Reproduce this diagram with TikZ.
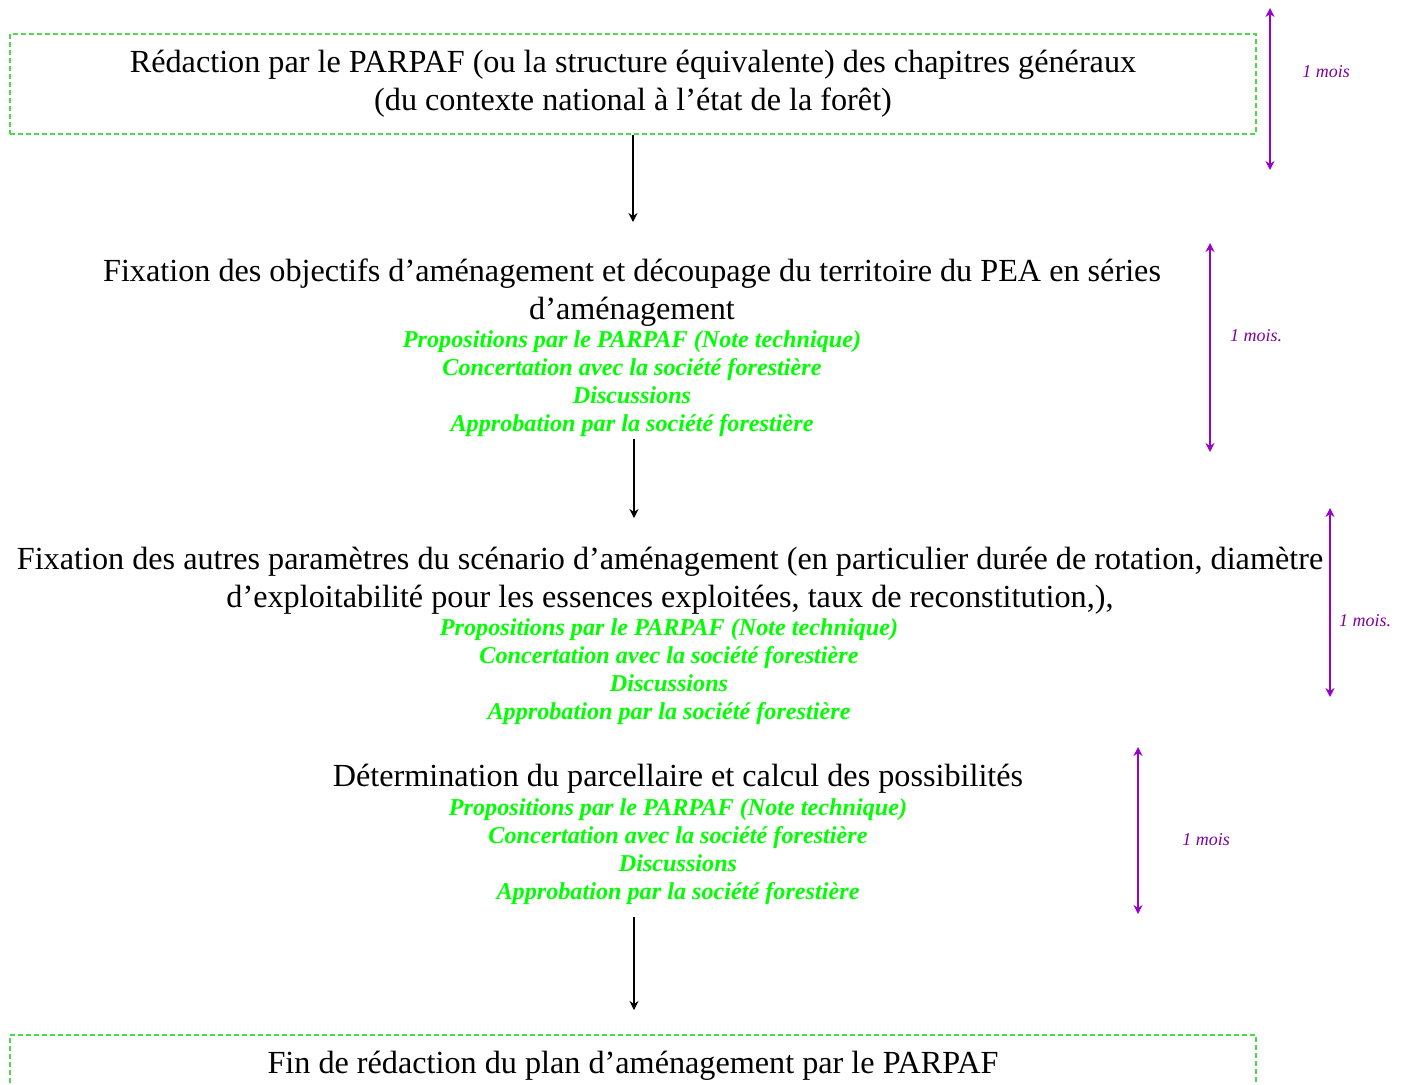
\documentclass[tikz,border=0pt]{standalone}
\usepackage{fontspec}
\setmainfont{Liberation Serif}
\usepackage{xcolor}
\usetikzlibrary{positioning,calc,arrows.meta}

\definecolor{boxgreen}{RGB}{76,217,76}
\definecolor{stepgreen}{RGB}{0,255,0}
\definecolor{dureepurple}{RGB}{153,0,204}
\definecolor{moispurple}{RGB}{128,0,160}

\tikzset{
  etapebox/.style={draw=boxgreen,dash pattern=on 2.5pt off 1.5pt,line width=0.7pt,minimum width=623pt,minimum height=50pt,inner sep=0.75pt,align=center,font=\fontsize{16.1}{19}\selectfont},
  etape/.style={inner sep=0.75pt,align=center,font=\fontsize{16.1}{19}\selectfont},
  sousetape/.style={inner sep=0.75pt,align=center,text=stepgreen,font=\fontsize{12.1}{14}\selectfont\bfseries\itshape},
  duree/.style={inner sep=0.75pt,text=moispurple,font=\fontsize{9}{10}\selectfont\itshape},
  fleche/.style={-{Stealth[length=4.5pt,width=4.5pt,inset=1.5pt]},line width=0.7pt},
  fleduree/.style={{Stealth[length=4.5pt,width=4.5pt,inset=1.5pt]}-{Stealth[length=4.5pt,width=4.5pt,inset=1.5pt]},draw=dureepurple,line width=0.9pt}
}

\begin{document}
\begin{tikzpicture}[x=0.5pt,y=0.5pt,yscale=-1,xscale=1]
\useasboundingbox (0,0) rectangle (1404,1084);

% Text Node
\node [etapebox] (redac) at (633,84) {R\'edaction par le PARPAF (ou la structure \'equivalente) des chapitres g\'en\'eraux\\(du contexte national \`a l’\'etat de la for\^et)};
% Text Node
\node [etape] (fixobj) at (632,293) {Fixation des objectifs d’am\'enagement et d\'ecoupage du territoire du PEA en s\'eries\\d’am\'enagement};
\node [sousetape] (fixobjg) at (632,384) {Propositions par le PARPAF (Note technique)\\Concertation avec la soci\'et\'e foresti\`ere\\Discussions\\Approbation par la soci\'et\'e foresti\`ere};
% Text Node
\node [etape] (fixparam) at (670,581) {Fixation des autres param\`etres du sc\'enario d’am\'enagement (en particulier dur\'ee de rotation, diam\`etre\\d’exploitabilit\'e pour les essences exploit\'ees, taux de reconstitution,),};
\node [sousetape] (fixparamg) at (669,672) {Propositions par le PARPAF (Note technique)\\Concertation avec la soci\'et\'e foresti\`ere\\Discussions\\Approbation par la soci\'et\'e foresti\`ere};
% Text Node
\node [etape] (parcel) at (678,779) {D\'etermination du parcellaire et calcul des possibilit\'es};
\node [sousetape] (parcelg) at (678,852) {Propositions par le PARPAF (Note technique)\\Concertation avec la soci\'et\'e foresti\`ere\\Discussions\\Approbation par la soci\'et\'e foresti\`ere};
% Text Node
\node [etape] (fin) at (633,1066) {Fin de r\'edaction du plan d’am\'enagement par le PARPAF};
\draw [draw=boxgreen,dash pattern=on 2.5pt off 1.5pt,line width=0.7pt] (10,1083) -- (10,1035) -- (1256,1035) -- (1256,1083);

%Straight Lines
\coordinate (fleche1bas) at (633,222);
\draw [fleche] (redac) -- (fleche1bas);
\coordinate (fleche2bas) at (634,518);
\draw [fleche] (fleche2bas |- fixobjg.south) -- (fleche2bas);
\coordinate (fleche3bas) at (634,1010);
\draw [fleche] ($(fleche3bas |- parcelg.south)+(0,10)$) -- (fleche3bas);

%Straight Lines
\coordinate (d1haut) at (1270,8);
\coordinate (d1bas) at (1270,170);
\draw [fleduree] (d1haut) -- (d1bas);
\coordinate (d2haut) at (1210,243);
\coordinate (d2bas) at (1210,452);
\draw [fleduree] (d2haut) -- (d2bas);
\coordinate (d3haut) at (1330,508);
\coordinate (d3bas) at (1330,697);
\draw [fleduree] (d3haut) -- (d3bas);
\coordinate (d4haut) at (1138,747);
\coordinate (d4bas) at (1138,914);
\draw [fleduree] (d4haut) -- (d4bas);

% Text Node
\node [duree] (mois1) at (1326,72) {1 mois};
\node [duree] (mois2) at (1256,336) {1 mois.};
\node [duree] (mois3) at (1365,621) {1 mois.};
\node [duree] (mois4) at (1206,840) {1 mois};

\end{tikzpicture}
\end{document}
